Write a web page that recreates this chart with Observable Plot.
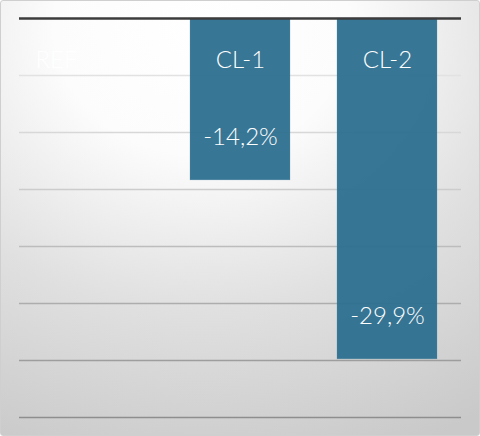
<!DOCTYPE html>
<html>
<head>
<meta charset="utf-8">
<script src="https://cdn.jsdelivr.net/npm/d3@7"></script>
<script src="https://cdn.jsdelivr.net/npm/@observablehq/plot@0.6"></script>
<style>
  html, body { margin: 0; padding: 0; }
  #chart {
    width: 480px; height: 436px; box-sizing: border-box;
    border: 1px solid #cfcfcf; border-radius: 3px;
    background: radial-gradient(ellipse 110% 105% at 42% 6%, #ffffff 0%, #fcfcfc 28%, #e0e0e0 62%, #c9c9c9 100%);
    overflow: hidden;
  }
  #chart svg { display: block; background: transparent; }
</style>
</head>
<body>
<div id="chart"></div>
<script>
const categories = ["REF", "CL-1", "CL-2"];
const values = [0, -14.2, -29.9];
const valueLabels = ["", "-14,2%", "-29,9%"];
const gridTicks = [-35, -30, -25, -20, -15, -10, -5];

const data = categories.map((c, i) => ({cat: c, value: values[i], label: valueLabels[i]}));
const font = "Lato, 'Open Sans', sans-serif";

const plot = Plot.plot({
  width: 478, height: 434,
  marginLeft: 18, marginRight: 18, marginTop: 17, marginBottom: 18,
  style: {background: "transparent", fontFamily: font},
  x: {domain: categories, paddingInner: 0.32, paddingOuter: 0.16, axis: null},
  y: {domain: [-35, 0], axis: null},
  marks: [
    Plot.ruleY(gridTicks, {stroke: "url(#gridgrad)", strokeWidth: 1.3}),
    Plot.barY(data, {x: "cat", y: "value", fill: "#2d6f8f", fillOpacity: 0.95, stroke: "#5b8fa8", strokeOpacity: 0.4, strokeWidth: 0.6}),
    Plot.ruleY([0], {stroke: "#3c3c3c", strokeWidth: 2.5}),
    Plot.text(data.filter(d => d.cat !== "REF"), {x: "cat", y: 0, text: "cat", dy: 42, fill: "white", fontSize: 24, fontWeight: 300, fontFamily: font}),
    Plot.text(data.filter(d => d.cat === "REF"), {x: "cat", y: 0, text: "cat", dy: 42, dx: -58, textAnchor: "start", fill: "white", fontSize: 24, fontWeight: 300, fontFamily: font}),
    Plot.text(data.filter(d => d.label), {x: "cat", y: "value", text: "label", dy: -43, fill: "white", fontSize: 24, fontWeight: 300, fontFamily: font})
  ]
});

const ns = "http://www.w3.org/2000/svg";
const defs = document.createElementNS(ns, "defs");
const lg = document.createElementNS(ns, "linearGradient");
lg.setAttribute("id", "gridgrad");
lg.setAttribute("gradientUnits", "userSpaceOnUse");
lg.setAttribute("x1", "0"); lg.setAttribute("y1", "17");
lg.setAttribute("x2", "0"); lg.setAttribute("y2", "416");
[["0", "#ececec"], ["0.4", "#cfcfcf"], ["1", "#8e8e8e"]].forEach(([o, c]) => {
  const s = document.createElementNS(ns, "stop");
  s.setAttribute("offset", o); s.setAttribute("stop-color", c);
  lg.appendChild(s);
});
defs.appendChild(lg);
plot.insertBefore(defs, plot.firstChild);
document.getElementById("chart").appendChild(plot);
</script>
</body>
</html>
